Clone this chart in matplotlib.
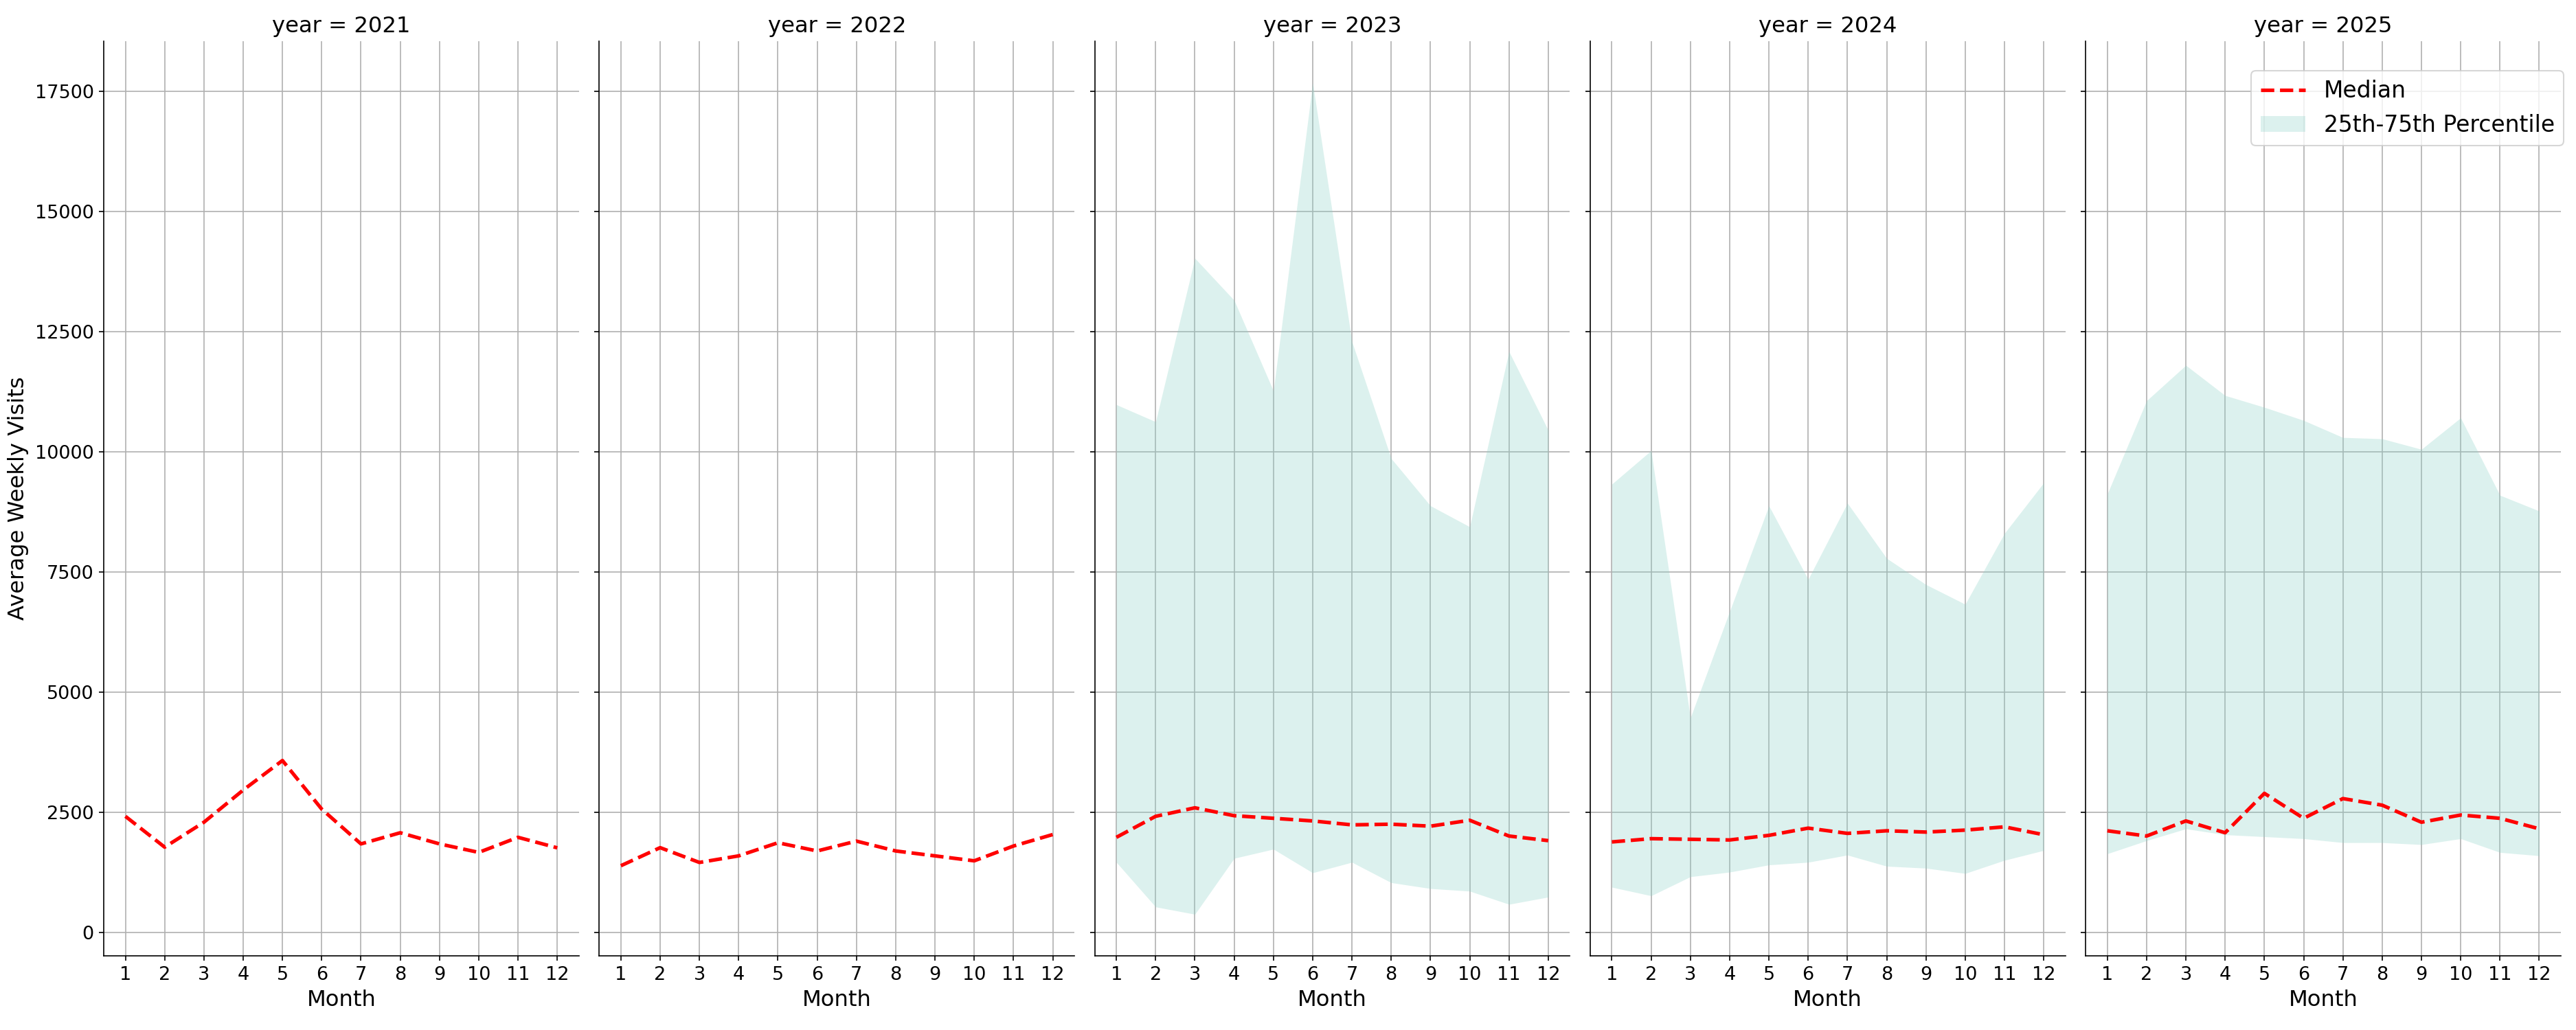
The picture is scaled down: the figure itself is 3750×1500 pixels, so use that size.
import matplotlib.pyplot as plt

# місяці та роки
months = list(range(1, 13))
years = [2021, 2022, 2023, 2024, 2025]

# медіана середніх тижневих відвідувань по роках
median_2021 = [2418, 1776, 2295, 2964, 3579, 2568, 1844, 2076, 1844, 1667, 1981, 1762]
median_2022 = [1390, 1766, 1458, 1595, 1868, 1697, 1902, 1697, 1595, 1492, 1800, 2039]
median_2023 = [1981, 2418, 2595, 2431, 2377, 2322, 2240, 2254, 2213, 2336, 2008, 1912]
median_2024 = [1885, 1953, 1940, 1926, 2022, 2172, 2063, 2117, 2090, 2131, 2199, 2035]
median_2025 = [2117, 2008, 2322, 2076, 2896, 2377, 2787, 2650, 2295, 2445, 2377, 2158]

# 25-й та 75-й перцентилі (для 2021 і 2022 смуги немає)
q25_2023 = [1462, 533, 380, 1544, 1735, 1243, 1462, 1038, 915, 861, 587, 738]
q75_2023 = [10983, 10627, 14029, 13155, 11270, 17680, 12294, 9863, 8879, 8442, 12089, 10450]
q25_2024 = [943, 765, 1161, 1257, 1407, 1462, 1612, 1380, 1339, 1229, 1503, 1708]
q75_2024 = [9330, 10027, 4467, 6680, 8879, 7349, 8934, 7786, 7240, 6830, 8305, 9357]
q25_2025 = [1639, 1912, 2158, 2035, 1994, 1953, 1871, 1871, 1830, 1953, 1667, 1598]
q75_2025 = [9125, 11065, 11802, 11174, 10928, 10655, 10300, 10273, 10054, 10709, 9098, 8770]

medians = [median_2021, median_2022, median_2023, median_2024, median_2025]
q25s = [None, None, q25_2023, q25_2024, q25_2025]
q75s = [None, None, q75_2023, q75_2024, q75_2025]

TICK_FS = 13
LABEL_FS = 15.5
LEGEND_FS = 15.8

fig, axes = plt.subplots(1, 5, figsize=(25, 10), dpi=150, sharey=True)
fig.subplots_adjust(left=0.0403, right=0.9941, bottom=0.072, top=0.96, wspace=0.043)

for ax, year, med, lo, hi in zip(axes, years, medians, q25s, q75s):
    ax.grid(True, color='#b0b0b0', linewidth=0.8, zorder=0)
    if lo is not None:
        ax.fill_between(months, lo, hi, color='#8dd3c7', alpha=0.3,
                        linewidth=0, zorder=2, label='25th-75th Percentile')
    ax.plot(months, med, color='red', linestyle='--', linewidth=2.5,
            zorder=3, label='Median')
    ax.set_title(f'year = {year}', fontsize=LABEL_FS)
    ax.set_xlabel('Month', fontsize=LABEL_FS)
    ax.set_xticks(months)
    ax.tick_params(labelsize=TICK_FS)
    ax.spines['top'].set_visible(False)
    ax.spines['right'].set_visible(False)

axes[0].set_ylabel('Average Weekly Visits', fontsize=LABEL_FS)

handles, labels = axes[-1].get_legend_handles_labels()
order = [labels.index('Median'), labels.index('25th-75th Percentile')]
fig.legend([handles[i] for i in order], [labels[i] for i in order],
           loc='upper right', bbox_to_anchor=(0.9952, 0.9313),
           borderaxespad=0, fontsize=LEGEND_FS)

plt.savefig('out.png', dpi=150)
